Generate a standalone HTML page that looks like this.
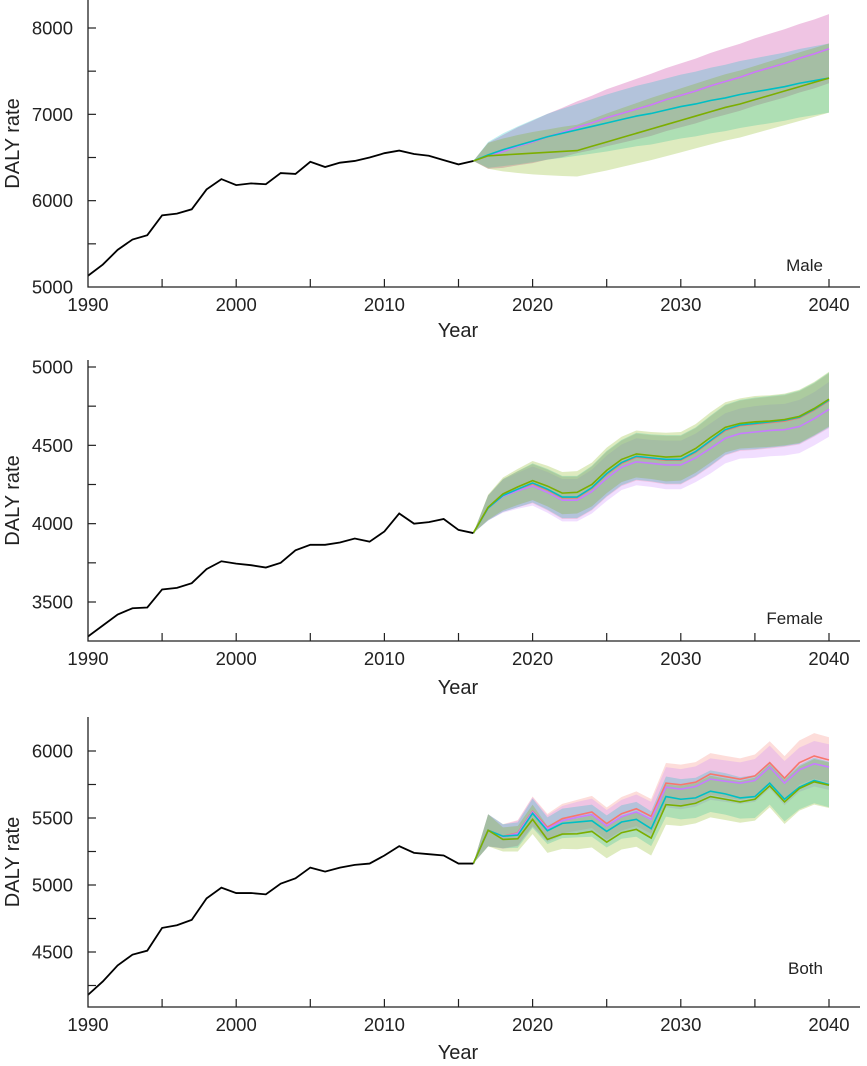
<!DOCTYPE html>
<html><head><meta charset="utf-8"><style>
html,body{margin:0;padding:0;background:#fff;}
svg{display:block;font-family:"Liberation Sans",Arial,sans-serif;}
</style></head><body>
<svg id="chart" width="867" height="1066" viewBox="0 0 867 1066"></svg>
<script>
// ---------- data ----------
const histYears = [1990,1991,1992,1993,1994,1995,1996,1997,1998,1999,2000,2001,2002,2003,2004,2005,2006,2007,2008,2009,2010,2011,2012,2013,2014,2015,2016];
const fcYears = [2016,2017,2018,2019,2020,2021,2022,2023,2024,2025,2026,2027,2028,2029,2030,2031,2032,2033,2034,2035,2036,2037,2038,2039,2040];

const maleHist = [5130,5260,5430,5550,5600,5830,5850,5900,6130,6250,6180,6200,6190,6320,6310,6450,6390,6440,6460,6500,6550,6580,6540,6520,6470,6420,6460];
const maleRed = [6460,6520,6570,6630,6680,6740,6790,6850,6900,6960,7010,7060,7110,7170,7220,7270,7330,7380,7430,7490,7540,7590,7650,7700,7760];
const malePurple = [6460,6520,6570,6630,6680,6740,6790,6850,6900,6960,7010,7060,7110,7170,7220,7270,7330,7380,7430,7490,7540,7590,7650,7700,7760];
const maleCyan = [6460,6530,6590,6640,6690,6740,6780,6820,6860,6900,6940,6980,7010,7050,7090,7120,7160,7190,7230,7260,7290,7320,7360,7390,7420];
const maleGreen = [6460,6520,6530,6540,6550,6560,6570,6580,6630,6680,6730,6780,6830,6880,6930,6980,7030,7080,7120,7170,7220,7270,7320,7370,7420];
const maleWidth = [0,150,190,220,245,265,285,300,315,330,340,350,360,365,370,375,380,385,388,390,393,395,397,399,400];

const femaleHist = [3280,3350,3420,3460,3465,3580,3590,3620,3710,3760,3745,3735,3720,3750,3830,3865,3865,3880,3905,3885,3950,4065,4000,4010,4030,3960,3940];
const femaleRed = [3940,4100,4180,4220,4255,4215,4165,4165,4225,4315,4385,4425,4415,4405,4405,4455,4525,4595,4625,4635,4645,4655,4675,4725,4785];
const femalePurple = [3940,4100,4175,4210,4240,4200,4150,4150,4205,4290,4360,4395,4385,4375,4375,4420,4480,4545,4575,4585,4595,4600,4620,4670,4730];
const femaleCyan = [3940,4100,4180,4220,4260,4220,4170,4170,4230,4320,4390,4430,4420,4410,4410,4460,4530,4600,4630,4640,4650,4660,4680,4730,4790];
const femaleGreen = [3940,4105,4190,4235,4275,4240,4195,4200,4250,4340,4410,4445,4435,4425,4430,4480,4550,4615,4640,4650,4655,4665,4685,4735,4795];
const femaleWidth = [0,80,105,115,125,130,135,135,140,145,145,150,150,155,155,155,160,160,160,165,165,165,170,170,175];

const bothHist = [4180,4280,4400,4480,4510,4680,4700,4740,4900,4980,4940,4940,4930,5010,5050,5130,5100,5130,5150,5160,5220,5290,5240,5230,5220,5160,5160];
const bothRed = [5160,5408,5364,5389,5550,5431,5495,5520,5545,5458,5532,5569,5512,5760,5748,5767,5829,5809,5790,5814,5913,5797,5913,5963,5933];
const bothPurple = [5160,5408,5360,5385,5545,5420,5480,5505,5525,5440,5510,5545,5490,5730,5715,5735,5790,5775,5760,5780,5880,5760,5860,5905,5880];
const bothCyan = [5160,5408,5364,5372,5535,5405,5460,5470,5480,5400,5470,5490,5420,5660,5640,5650,5700,5680,5650,5660,5760,5640,5730,5780,5750];
const bothGreen = [5160,5408,5340,5345,5490,5340,5380,5382,5400,5320,5390,5415,5350,5600,5590,5610,5660,5640,5620,5640,5740,5620,5720,5770,5745];
const bothWidth = [0,120,90,95,110,100,110,115,120,120,125,130,130,150,150,150,155,155,155,160,160,165,165,170,170];

const maleTicks = [5000,6000,7000,8000];
const femaleTicks = [3500,4000,4500,5000];
const bothTicks = [4500,5000,5500,6000];
const xTickLabels = [1990,2000,2010,2020,2030,2040];

// ---------- layout ----------
const seriesColors = ['#F8766D','#C77CFF','#00BFC4','#7CAE00'];
const seriesNames = ['red','purple','cyan','green'];
const panels = [
  {name:'male', label:'Male', hist:maleHist, fc:[maleRed,malePurple,maleCyan,maleGreen], w:maleWidth, ticks:maleTicks, minorStep:500,
   yMin:5000, yMax:8000, pxMin:287, pxMax:28, axisTop:0, axisY:287, labelX:823, labelY:271, yearY:337},
  {name:'female', label:'Female', hist:femaleHist, fc:[femaleRed,femalePurple,femaleCyan,femaleGreen], w:femaleWidth, ticks:femaleTicks, minorStep:250,
   yMin:3500, yMax:5000, pxMin:602, pxMax:367, axisTop:360, axisY:641, labelX:823, labelY:624, yearY:694},
  {name:'both', label:'Both', hist:bothHist, fc:[bothRed,bothPurple,bothCyan,bothGreen], w:bothWidth, ticks:bothTicks, minorStep:250,
   yMin:4500, yMax:6000, pxMin:952, pxMax:751, axisTop:717, axisY:1007, labelX:823, labelY:974, yearY:1059}
];
const X0 = 88, X1 = 829, Y0 = 1990, Y1 = 2040;
const xs = y => X0 + (y - Y0) * (X1 - X0) / (Y1 - Y0);
const NS = 'http://www.w3.org/2000/svg';
const svg = document.getElementById('chart');
function mk(tag, attrs, parent){ const e = document.createElementNS(NS, tag); for (const k in attrs) e.setAttribute(k, attrs[k]); (parent||svg).appendChild(e); return e; }

panels.forEach(p => {
  const ys = v => p.pxMin + (v - p.yMin) * (p.pxMax - p.pxMin) / (p.yMax - p.yMin);
  const g = mk('g', {});
  
  
  p.fc.forEach((s, i) => {
    const up = s.map((v, k) => [xs(fcYears[k]), ys(v + p.w[k])]);
    const lo = s.map((v, k) => [xs(fcYears[k]), ys(v - p.w[k])]).reverse();
    const band = mk('polygon', {points: up.concat(lo).map(q => q.join(',')).join(' '), fill: seriesColors[i], 'fill-opacity': 0.25, stroke: 'none'}, g);
    
    
  });
  p.fc.forEach((s, i) => {
    const ln = mk('polyline', {points: s.map((v, k) => xs(fcYears[k]) + ',' + ys(v)).join(' '), fill: 'none', stroke: seriesColors[i], 'stroke-width': 1.6}, g);
    
    
  });
  const hl = mk('polyline', {points: p.hist.map((v, k) => xs(histYears[k]) + ',' + ys(v)).join(' '), fill: 'none', stroke: '#000', 'stroke-width': 1.8}, g);
  
  
  const ax = mk('path', {d: `M${X0},${p.axisTop} V${p.axisY} H860`, fill: 'none', stroke: '#222', 'stroke-width': 1.3}, g);
  
  
  const vLow = p.yMin - (p.axisY - p.pxMin) / (p.pxMin - p.pxMax) * (p.yMax - p.yMin);
  for (let v = p.yMin - Math.floor((p.yMin - vLow) / p.minorStep) * p.minorStep; ys(v) >= p.axisTop + 2; v += p.minorStep) {
    if (Math.abs(ys(v) - p.axisY) < 3) continue;
    mk('line', {x1: X0, x2: X0 + 8, y1: ys(v), y2: ys(v), stroke: '#222', 'stroke-width': 1.2}, g);
  }
  p.ticks.forEach(v => {
    const t = mk('text', {x: 73, y: ys(v) + 6.5, 'text-anchor': 'end', 'font-size': 18.5, fill: '#222'}, g);
    t.textContent = v;
    
    
  });
  for (let yr = 1995; yr <= 2040; yr += 5) mk('line', {x1: xs(yr), x2: xs(yr), y1: p.axisY, y2: p.axisY - 8, stroke: '#222', 'stroke-width': 1.2}, g);
  xTickLabels.forEach(yr => {
    const t = mk('text', {x: xs(yr), y: p.axisY + 24, 'text-anchor': 'middle', 'font-size': 18.5, fill: '#222'}, g);
    t.textContent = yr;
    
    
  });
  const xt = mk('text', {x: 458, y: p.yearY, 'text-anchor': 'middle', 'font-size': 20, fill: '#222'}, g);
  xt.textContent = 'Year';
  
  
  const midY = (p.axisTop + p.axisY) / 2;
  const yt = mk('text', {x: 19, y: midY, 'text-anchor': 'middle', 'font-size': 20, fill: '#222', transform: `rotate(-90 19 ${midY})`}, g);
  yt.textContent = 'DALY rate';
  
  
  const lb = mk('text', {x: p.labelX, y: p.labelY, 'text-anchor': 'end', 'font-size': 17, fill: '#222'}, g);
  lb.textContent = p.label;
  
  
});
</script>
</body></html>
